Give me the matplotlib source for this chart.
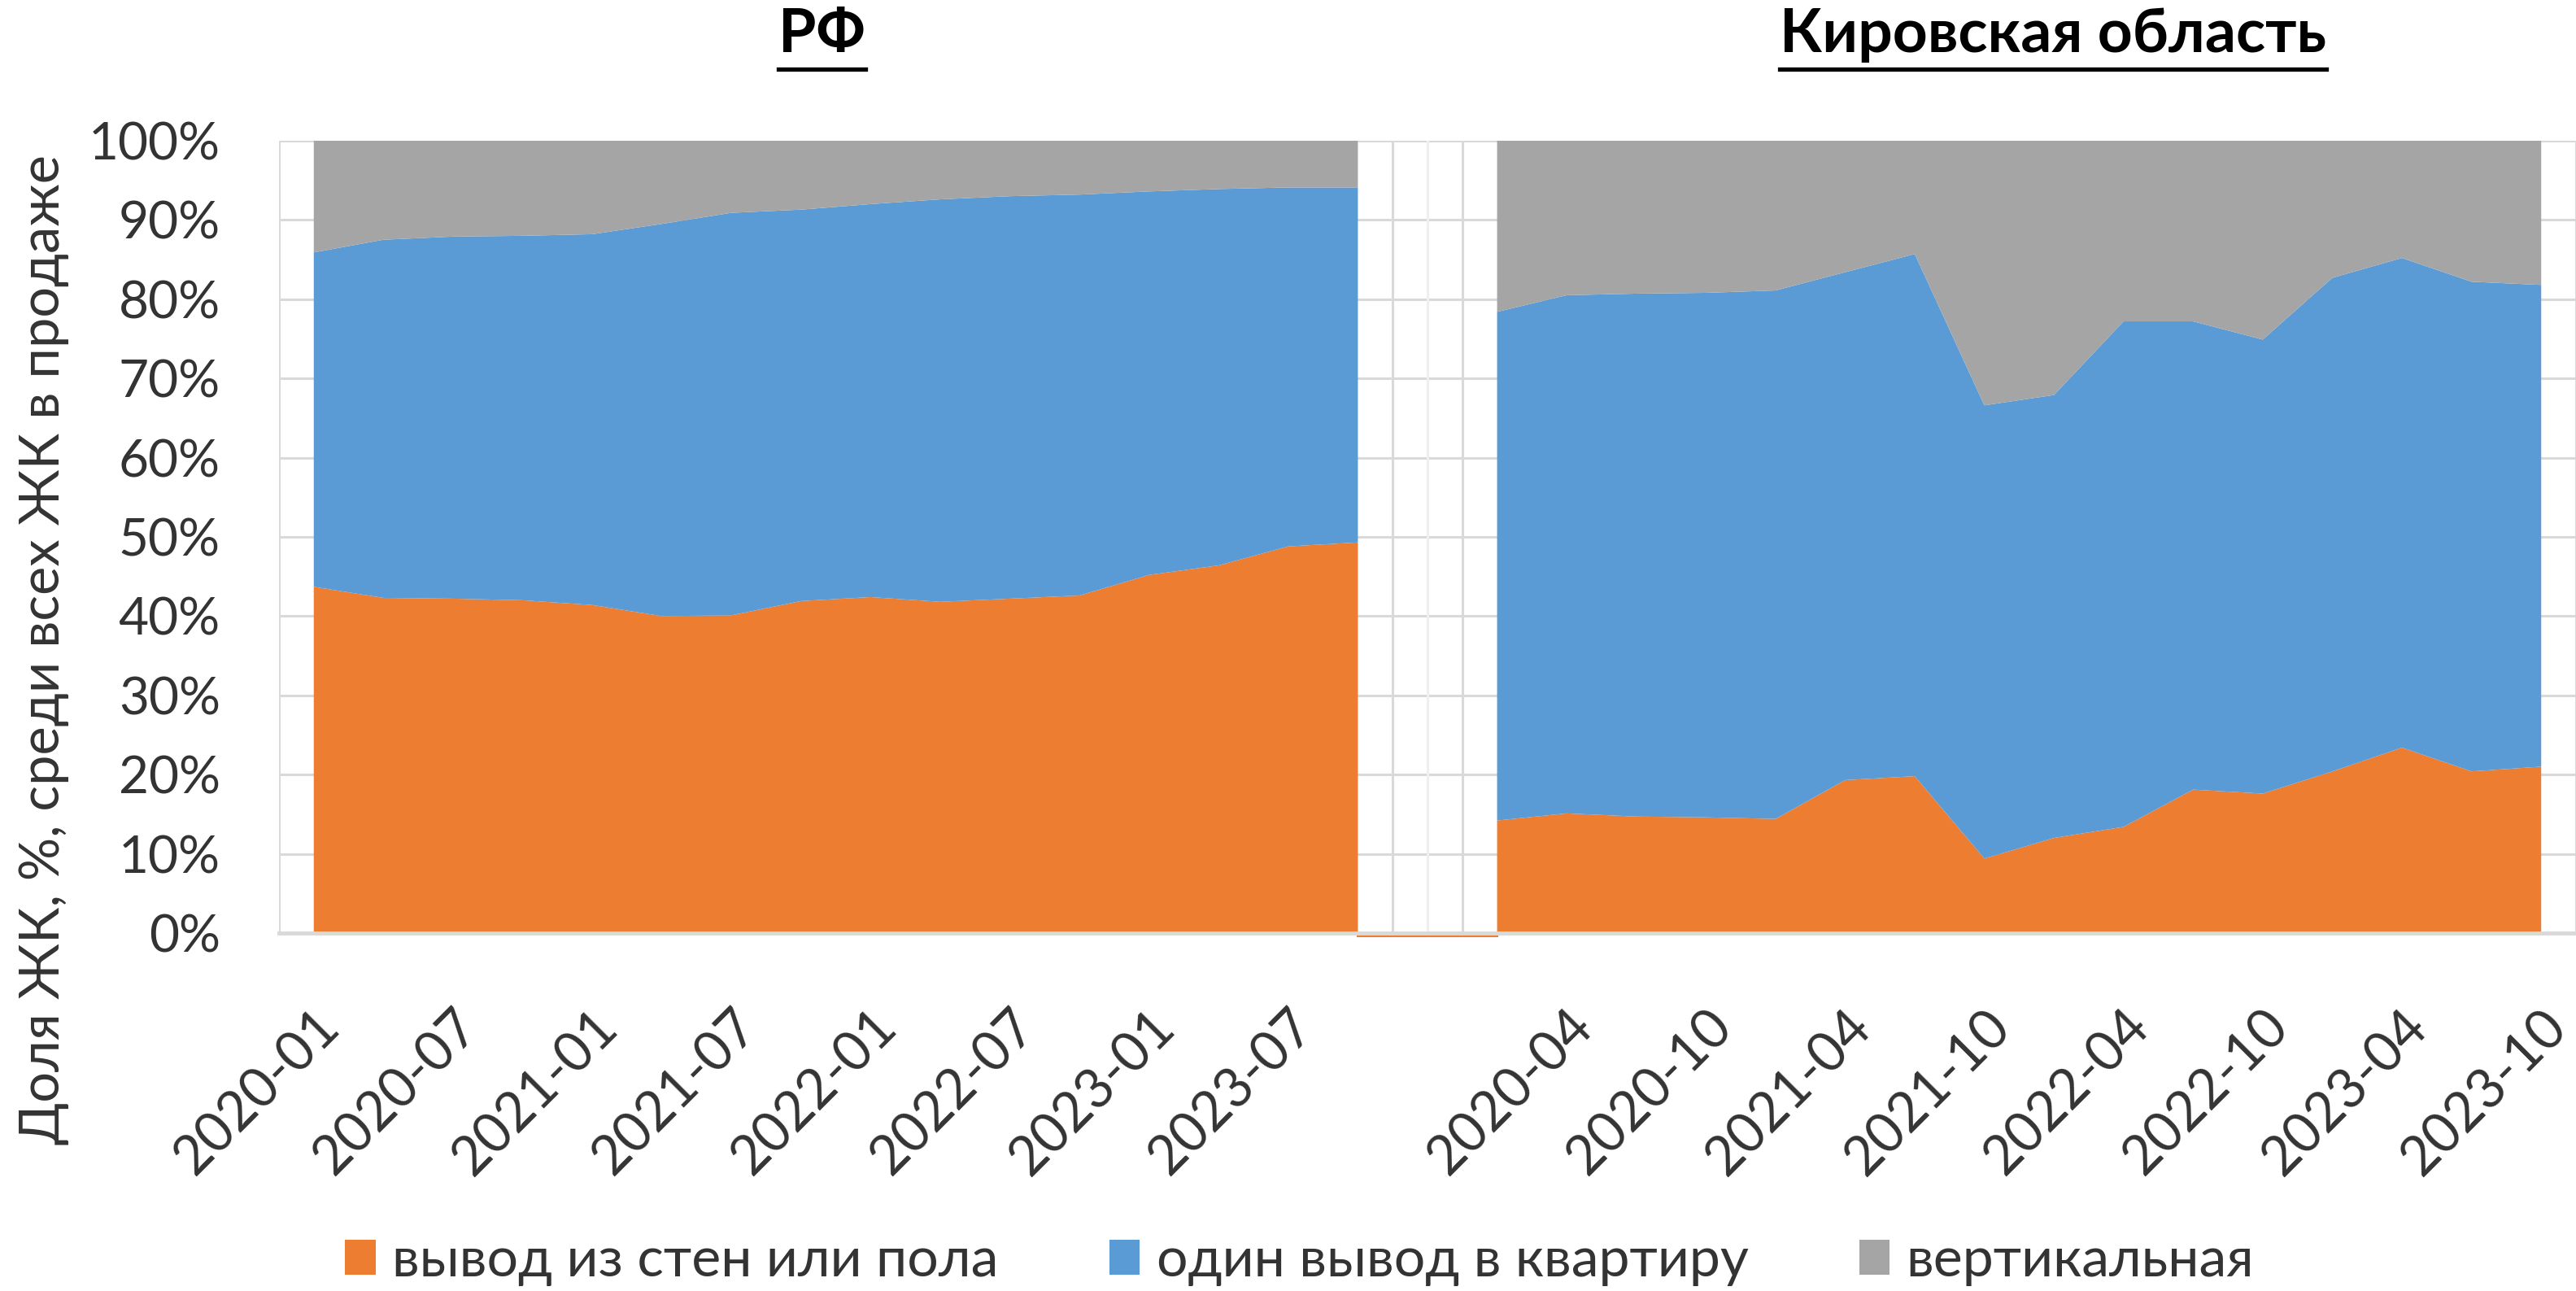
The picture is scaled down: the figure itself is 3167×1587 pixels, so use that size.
import matplotlib
matplotlib.use('Agg')
import matplotlib.pyplot as plt
import matplotlib.transforms as mtransforms
from matplotlib.patches import Patch
from matplotlib.lines import Line2D

plt.rcParams['font.family'] = ['Lato', 'DejaVu Sans']

# кварталы 2020-01 ... 2023-10
quarters = ['2020-01', '2020-04', '2020-07', '2020-10',
            '2021-01', '2021-04', '2021-07', '2021-10',
            '2022-01', '2022-04', '2022-07', '2022-10',
            '2023-01', '2023-04', '2023-07', '2023-10']

series_names = ['вывод из стен или пола', 'один вывод в квартиру', 'вертикальная']
colors = ['#ED7D31', '#5B9BD5', '#A5A5A5']

# РФ, доли в %
rf_walls = [43.7, 42.3, 42.2, 42.0, 41.4, 40.0, 40.1, 41.9,
            42.4, 41.8, 42.2, 42.6, 45.2, 46.4, 48.8, 49.3]
rf_single = [42.2, 45.2, 45.7, 46.0, 46.8, 49.5, 50.8, 49.4,
             49.6, 50.8, 50.8, 50.6, 48.4, 47.5, 45.3, 44.8]
rf_vertical = [14.1, 12.5, 12.1, 12.0, 11.8, 10.5, 9.1, 8.7,
               8.0, 7.4, 7.0, 6.8, 6.4, 6.1, 5.9, 5.9]

# Кировская область, доли в %
kirov_walls = [14.2, 15.1, 14.7, 14.6, 14.4, 19.3, 19.8, 9.4,
               12.0, 13.4, 18.1, 17.6, 20.4, 23.4, 20.4, 21.0]
kirov_single = [64.2, 65.4, 66.0, 66.2, 66.7, 64.1, 65.9, 57.2,
                55.9, 63.8, 59.1, 57.3, 62.3, 61.8, 61.8, 60.8]
kirov_vertical = [21.6, 19.5, 19.3, 19.2, 18.9, 16.6, 14.3, 33.4,
                  32.1, 22.8, 22.8, 25.1, 17.3, 14.8, 17.8, 18.2]

n = len(quarters)
rf_x = list(range(n))
kirov_x = list(range(n + 1, 2 * n + 1))   # одна пустая категория между блоками
all_labels = quarters + [''] + quarters

text_color = '#333333'
grid_color = '#D9D9D9'

fig = plt.figure(figsize=(31.67, 15.87), dpi=100)
ax = fig.add_axes([0.1083, 0.2773, 0.8917, 0.6137])

ax.stackplot(rf_x, rf_walls, rf_single, rf_vertical, colors=colors,
             linewidth=0, zorder=2)
ax.stackplot(kirov_x, kirov_walls, kirov_single, kirov_vertical, colors=colors,
             linewidth=0, zorder=2)

ax.set_xlim(-0.5, 2 * n + 0.5)
ax.set_ylim(0, 100)

# сетка
ax.set_yticks(range(0, 101, 10))
ax.set_yticklabels([f'{v}%' for v in range(0, 101, 10)])
for v in range(10, 101, 10):
    ax.axhline(v, color=grid_color, lw=2.2, zorder=1)
for xb in [-0.5, n - 0.5, n + 0.5, 2 * n + 0.5]:
    ax.axvline(xb, color=grid_color, lw=2.2, zorder=1)
ax.axvline(n, color='#EFEFEF', lw=2.2, zorder=1)

# тонкая линия нулевых значений в разрыве
off = mtransforms.offset_copy(ax.transData, fig=fig, x=0, y=-4, units='dots')
ax.plot([n - 1, n + 1], [0, 0], color=colors[0], lw=1.5, transform=off,
        clip_on=False, zorder=3)

for side in ['top', 'right', 'left']:
    ax.spines[side].set_visible(False)
ax.spines['bottom'].set_color(grid_color)
ax.spines['bottom'].set_linewidth(3.5)

ax.set_xticks(range(0, 2 * n + 1, 2))
ax.set_xticklabels(all_labels[::2], rotation=45, ha='right',
                   rotation_mode='anchor')
ax.tick_params(axis='x', length=0, pad=60, labelsize=48, labelcolor=text_color)
ax.tick_params(axis='y', length=0, pad=52, labelsize=46, labelcolor=text_color)

fig.text(0.017, 0.497, 'Доля ЖК, %, среди всех ЖК в продаже', rotation=90,
         ha='center', va='center', fontsize=48, color=text_color)

# заголовки блоков с подчёркиванием
titles = [fig.text(0.319, 0.973, 'РФ', ha='center', va='center',
                   fontsize=54, fontweight='bold', color='black'),
          fig.text(0.797, 0.973, 'Кировская область', ha='center', va='center',
                   fontsize=54, fontweight='bold', color='black')]
fig.canvas.draw()
W, H = fig.bbox.width, fig.bbox.height
for t in titles:
    bb = t.get_window_extent()
    y_line = (bb.y0 - 8) / H
    fig.add_artist(Line2D([bb.x0 / W, bb.x1 / W], [y_line, y_line],
                          transform=fig.transFigure, color='black', lw=3.8))

handles = [Patch(facecolor=c, edgecolor='none') for c in colors]
fig.legend(handles, series_names, loc='center', bbox_to_anchor=(0.5045, 0.023),
           ncol=3, frameon=False, fontsize=49, labelcolor=text_color,
           handlelength=0.55, handleheight=0.6, handletextpad=0.3,
           columnspacing=2.0)

fig.savefig('out.png', dpi=100)
